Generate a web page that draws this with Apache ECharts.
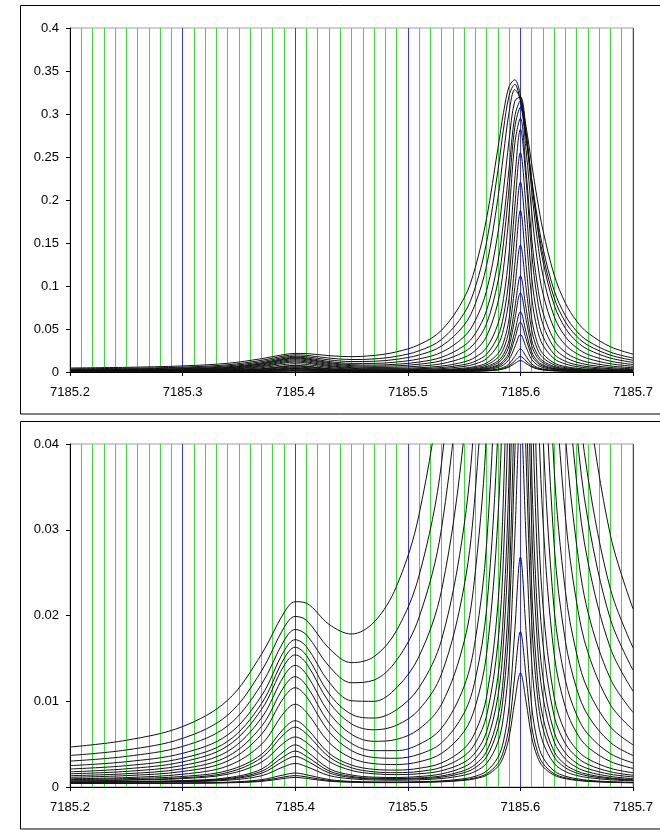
<!DOCTYPE html>
<html>
<head>
<meta charset="utf-8">
<script src="https://cdn.jsdelivr.net/npm/echarts@6/dist/echarts.min.js"></script>
<style>
html, body { margin: 0; padding: 0; background: #fff; }
#cn { width: 660px; height: 830px; }
</style>
</head>
<body>
<div id="cn"></div>
<script>
'use strict';

// energy grid (eV) shared by every spectrum
const energy = [7185.2, 7185.25, 7185.3, 7185.34, 7185.37, 7185.39, 7185.4, 7185.41, 7185.43, 7185.45, 7185.47, 7185.49,
    7185.51, 7185.53, 7185.55, 7185.56, 7185.57, 7185.58, 7185.585, 7185.59, 7185.595, 7185.6, 7185.605, 7185.61,
    7185.615, 7185.62, 7185.63, 7185.64, 7185.65, 7185.66, 7185.68, 7185.7];

// spectra, largest first
const spec01 = [0.00466, 0.00545, 0.00705, 0.01012, 0.01546, 0.02031, 0.02161, 0.02143, 0.01897, 0.01784, 0.01923, 0.02341, 0.03177, 0.04856, 0.08592, 0.12183, 0.17888, 0.25997, 0.30174, 0.33196, 0.3398, 0.32196, 0.28562, 0.24234, 0.20083, 0.16512, 0.11284, 0.08, 0.05913, 0.0454, 0.02933, 0.02079];
const spec02 = [0.00368, 0.00432, 0.00567, 0.00838, 0.01351, 0.01858, 0.01989, 0.01944, 0.01618, 0.0145, 0.0152, 0.01824, 0.02465, 0.03781, 0.06817, 0.09887, 0.15101, 0.23422, 0.28255, 0.32139, 0.33452, 0.31512, 0.27304, 0.2245, 0.1801, 0.14425, 0.09467, 0.06543, 0.04738, 0.03613, 0.02306, 0.01625];
const spec03 = [0.00302, 0.00357, 0.00473, 0.00713, 0.01195, 0.01705, 0.01837, 0.01774, 0.01409, 0.01216, 0.01247, 0.01477, 0.01979, 0.03019, 0.05447, 0.07952, 0.12389, 0.20167, 0.25331, 0.30223, 0.32839, 0.31661, 0.2741, 0.22161, 0.17402, 0.13615, 0.08616, 0.05807, 0.04151, 0.03113, 0.01955, 0.01364];
const spec04 = [0.00249, 0.00295, 0.00393, 0.00607, 0.01062, 0.01584, 0.01718, 0.01636, 0.01224, 0.01006, 0.00999, 0.01157, 0.01524, 0.02294, 0.04104, 0.05997, 0.09467, 0.16113, 0.2119, 0.26977, 0.31498, 0.31985, 0.28069, 0.2232, 0.17021, 0.12918, 0.07786, 0.05078, 0.0355, 0.02623, 0.01617, 0.01118];
const spec05 = [0.0021, 0.00249, 0.00336, 0.00532, 0.00971, 0.01495, 0.0163, 0.01533, 0.0109, 0.00848, 0.00804, 0.00901, 0.01159, 0.01718, 0.03052, 0.04477, 0.07175, 0.12755, 0.17516, 0.23725, 0.29698, 0.31531, 0.27558, 0.21108, 0.15409, 0.11266, 0.06455, 0.04092, 0.02815, 0.0204, 0.0126, 0.0087];
const spec06 = [0.00177, 0.00212, 0.00293, 0.00479, 0.00903, 0.01413, 0.01541, 0.01441, 0.00991, 0.00736, 0.00667, 0.0072, 0.00903, 0.0132, 0.0234, 0.03454, 0.05639, 0.10481, 0.15017, 0.21468, 0.28458, 0.30774, 0.25861, 0.18651, 0.12947, 0.09144, 0.05045, 0.03146, 0.02148, 0.01568, 0.00959, 0.00666];
const spec07 = [0.00154, 0.00182, 0.00251, 0.00415, 0.00804, 0.01294, 0.01419, 0.01314, 0.00866, 0.00614, 0.00533, 0.00555, 0.00676, 0.00966, 0.01695, 0.02512, 0.04161, 0.08071, 0.12059, 0.18489, 0.26535, 0.29506, 0.23396, 0.15585, 0.10207, 0.06952, 0.03702, 0.02279, 0.01551, 0.01133, 0.007, 0.00492];
const spec08 = [0.00132, 0.00155, 0.00213, 0.00356, 0.00706, 0.01168, 0.01287, 0.01182, 0.00748, 0.00508, 0.00424, 0.00424, 0.00497, 0.00687, 0.01173, 0.01719, 0.02833, 0.0557, 0.08525, 0.13884, 0.22412, 0.28215, 0.2241, 0.1388, 0.08518, 0.05551, 0.02818, 0.01699, 0.01146, 0.00835, 0.00518, 0.00368];
const spec09 = [0.00113, 0.00133, 0.00181, 0.00303, 0.00614, 0.01045, 0.01158, 0.01054, 0.00644, 0.00424, 0.00344, 0.00335, 0.00382, 0.00515, 0.00863, 0.0126, 0.02079, 0.04147, 0.06498, 0.11047, 0.19196, 0.25501, 0.19193, 0.11042, 0.06492, 0.04139, 0.02066, 0.01242, 0.0084, 0.00616, 0.00388, 0.00281];
const spec10 = [0.00096, 0.0011, 0.00149, 0.00245, 0.00497, 0.00865, 0.00965, 0.00872, 0.00519, 0.00337, 0.00272, 0.00262, 0.00294, 0.00392, 0.00648, 0.00942, 0.01554, 0.03125, 0.04962, 0.08674, 0.15906, 0.22087, 0.15904, 0.0867, 0.04957, 0.03118, 0.01544, 0.00928, 0.0063, 0.00464, 0.00297, 0.00217];
const spec11 = [0.00087, 0.00097, 0.00123, 0.00192, 0.00379, 0.00683, 0.00773, 0.00687, 0.00394, 0.00256, 0.00206, 0.00197, 0.00218, 0.00281, 0.00449, 0.00643, 0.01052, 0.02125, 0.03427, 0.06232, 0.12464, 0.18781, 0.12463, 0.0623, 0.03424, 0.0212, 0.01045, 0.00634, 0.00436, 0.00328, 0.00218, 0.00166];
const spec12 = [0.0008, 0.00084, 0.00107, 0.00169, 0.0034, 0.00616, 0.00698, 0.0062, 0.00351, 0.00224, 0.00177, 0.00167, 0.00181, 0.0023, 0.00361, 0.00513, 0.00833, 0.01677, 0.02701, 0.04905, 0.09805, 0.1477, 0.09804, 0.04903, 0.02698, 0.01673, 0.00827, 0.00504, 0.0035, 0.00263, 0.00177, 0.00137];
const spec13 = [0.00071, 0.00079, 0.00098, 0.00149, 0.00289, 0.00516, 0.00584, 0.00519, 0.00298, 0.00193, 0.00154, 0.00144, 0.00154, 0.0019, 0.00288, 0.00403, 0.00645, 0.01281, 0.02055, 0.03719, 0.07419, 0.11168, 0.07418, 0.03718, 0.02054, 0.01278, 0.00639, 0.00396, 0.00278, 0.00214, 0.00148, 0.00118];
const spec14 = [0.00058, 0.00063, 0.00075, 0.00108, 0.00208, 0.00416, 0.00491, 0.00418, 0.00215, 0.0014, 0.00115, 0.00111, 0.00122, 0.00153, 0.00235, 0.0033, 0.00529, 0.01055, 0.01692, 0.03065, 0.06114, 0.09205, 0.06114, 0.03064, 0.01691, 0.01053, 0.00526, 0.00326, 0.00229, 0.00176, 0.00123, 0.00097];
const spec15 = [0.00056, 0.00061, 0.00071, 0.00098, 0.00182, 0.00356, 0.00419, 0.00357, 0.00188, 0.00123, 0.00102, 0.00098, 0.00106, 0.00129, 0.00192, 0.00264, 0.00415, 0.00814, 0.01298, 0.02341, 0.04657, 0.07004, 0.04657, 0.0234, 0.01297, 0.00813, 0.00412, 0.0026, 0.00187, 0.00146, 0.00105, 0.00086];
const spec16 = [0.00056, 0.00058, 0.00067, 0.0009, 0.0016, 0.00305, 0.00357, 0.00307, 0.00165, 0.00111, 0.00094, 0.0009, 0.00097, 0.00115, 0.00167, 0.00227, 0.00352, 0.00682, 0.01082, 0.01945, 0.03861, 0.05804, 0.03861, 0.01944, 0.01081, 0.00681, 0.0035, 0.00224, 0.00163, 0.00129, 0.00096, 0.0008];
const spec17 = [0.00054, 0.00057, 0.00062, 0.00079, 0.00131, 0.00237, 0.00275, 0.00238, 0.00134, 0.00095, 0.00082, 0.00079, 0.00084, 0.00099, 0.00138, 0.00182, 0.00276, 0.00522, 0.00822, 0.01467, 0.029, 0.04353, 0.029, 0.01467, 0.00822, 0.00522, 0.00274, 0.0018, 0.00135, 0.0011, 0.00084, 0.00072];
const spec18 = [0.00042, 0.00044, 0.00048, 0.00056, 0.00085, 0.00142, 0.00163, 0.00143, 0.00087, 0.00065, 0.00059, 0.00058, 0.00062, 0.00071, 0.00097, 0.00125, 0.00186, 0.00345, 0.00536, 0.00943, 0.01823, 0.02681, 0.01823, 0.00943, 0.00536, 0.00345, 0.00186, 0.00125, 0.00097, 0.00078, 0.00062, 0.00055];
const spec19 = [0.00042, 0.00043, 0.00045, 0.00052, 0.00073, 0.00117, 0.00133, 0.00118, 0.00075, 0.0006, 0.00054, 0.00054, 0.00056, 0.00065, 0.00084, 0.00107, 0.00154, 0.00275, 0.00418, 0.0071, 0.01295, 0.01811, 0.01295, 0.0071, 0.00418, 0.00275, 0.00154, 0.00107, 0.00084, 0.0007, 0.00057, 0.00051];
const spec20 = [0.00042, 0.00043, 0.00044, 0.00049, 0.00065, 0.001, 0.00112, 0.001, 0.00067, 0.00055, 0.00051, 0.00051, 0.00054, 0.0006, 0.00077, 0.00097, 0.00137, 0.00238, 0.00355, 0.00582, 0.00999, 0.01331, 0.00999, 0.00582, 0.00355, 0.00238, 0.00137, 0.00097, 0.00077, 0.00065, 0.00054, 0.00049];

const spectra = [spec01, spec02, spec03, spec04, spec05, spec06, spec07, spec08, spec09, spec10,
    spec11, spec12, spec13, spec14, spec15, spec16, spec17, spec18, spec19, spec20];

// axis ranges: top panel full scale, bottom panel zoomed
const xRange = [7185.2, 7185.7];
const yTop = { max: 0.4, step: 0.05 };
const yBottom = { max: 0.04, step: 0.01 };

const font = 'Liberation Sans, Arial, sans-serif';

const makeX = (gridIndex) => ({
    type: 'value',
    gridIndex: gridIndex,
    min: xRange[0],
    max: xRange[1],
    interval: 0.1,
    axisLine: { show: true, onZero: false, lineStyle: { color: '#000', width: 1 } },
    axisTick: { show: true, length: 4, lineStyle: { color: '#000' } },
    axisLabel: {
        margin: 14,
        color: '#000',
        fontFamily: font,
        fontSize: 13,
        formatter: v => v.toFixed(1)
    },
    splitLine: { show: true, lineStyle: { color: '#3636ff', width: 1 } }, //0.1刻みは青
    minorTick: { show: false, splitNumber: 10 },
    minorSplitLine: { show: true, lineStyle: { color: '#33e033', width: 1 } } //0.01刻みは緑
});

const makeY = (gridIndex, ax) => ({
    type: 'value',
    gridIndex: gridIndex,
    min: 0,
    max: ax.max,
    interval: ax.step,
    axisLine: { show: true, lineStyle: { color: '#000', width: 1 } },
    axisTick: { show: true, length: 4, lineStyle: { color: '#000' } },
    axisLabel: { margin: 11, color: '#000', fontFamily: font, fontSize: 13 },
    splitLine: { show: false }
});

let series = [];
spectra.forEach(s => {
    const pts = energy.map((e, i) => [e, s[i]]);
    [0, 1].forEach(g => {
        series.push({
            type: 'line',
            xAxisIndex: g,
            yAxisIndex: g,
            data: pts,
            symbol: 'none',
            showSymbol: false,
            smooth: 0.35,
            clip: true,
            silent: true,
            lineStyle: { color: '#111', width: 1 }
        });
    });
});

const chart = echarts.init(document.getElementById('cn'), null, { renderer: 'canvas' });

chart.setOption({
    animation: false,
    backgroundColor: '#fff',
    grid: [{
            left: 70,
            right: 27,
            top: 28,
            height: 344,
            show: true,
            borderColor: '#a0a0a0',
            borderWidth: 1
        },
        {
            left: 70,
            right: 27,
            top: 444,
            height: 343,
            show: true,
            borderColor: '#a0a0a0',
            borderWidth: 1
        }
    ],
    xAxis: [makeX(0), makeX(1)],
    yAxis: [makeY(0, yTop), makeY(1, yBottom)],
    graphic: [{
            type: 'rect',
            silent: true,
            shape: { x: 20.5, y: 5.5, width: 700, height: 408.5 },
            style: { fill: 'none', stroke: '#000', lineWidth: 1 }
        },
        {
            type: 'rect',
            silent: true,
            shape: { x: 20.5, y: 421.5, width: 700, height: 407.5 },
            style: { fill: 'none', stroke: '#000', lineWidth: 1 }
        }
    ],
    series: series
});
</script>
</body>
</html>
